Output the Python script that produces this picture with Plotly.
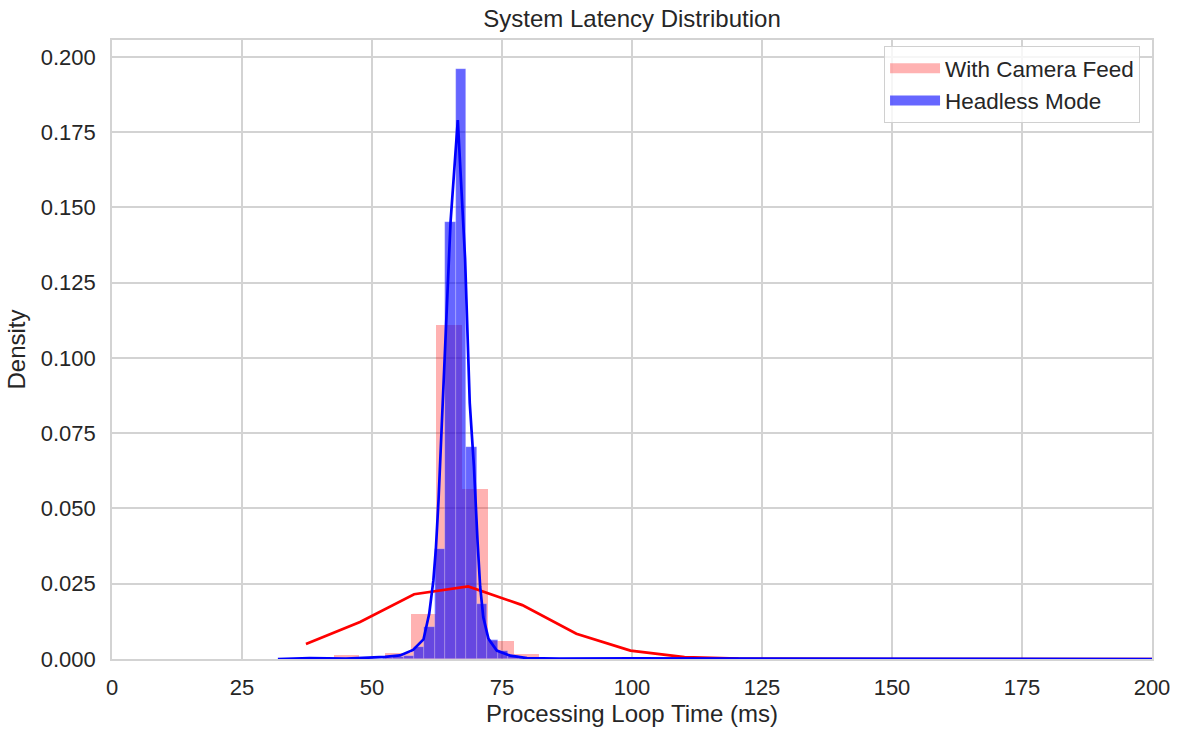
import plotly.graph_objects as go

# Histogram "With Camera Feed" (density), bin width ~4.95 ms
camera_bin_left = [42.6, 47.55, 52.5, 57.45, 62.4, 67.35, 72.3, 77.25]
camera_bin_width = 4.95
camera_density = [0.0012, 0.0, 0.0020, 0.0150, 0.1110, 0.0565, 0.0060, 0.0017]

# Histogram "Headless Mode" (density), bin width ~2.01 ms
headless_bin_left = [52.04, 54.05, 56.07, 58.08, 60.09, 62.10, 64.12, 66.13,
                     68.14, 70.15, 72.16, 74.18, 76.19, 78.20]
headless_bin_width = 2.012
headless_density = [0.0003, 0.0005, 0.0010, 0.0039, 0.0106, 0.0367, 0.1450, 0.1960,
                    0.0705, 0.0182, 0.0062, 0.0028, 0.0011, 0.0004]

# KDE curves
camera_kde_x = [37.3, 47.7, 58.1, 68.5, 78.9, 89.3, 99.7, 110.1, 120.5, 130.9,
                141.3, 151.7, 162.1, 172.5, 182.9, 193.3, 200.0]
camera_kde_y = [0.0050, 0.0123, 0.0215, 0.0241, 0.0179, 0.0084, 0.0028, 0.0006, 0.0001, 0.0,
                0.0, 0.0, 0.0, 0.0, 0.0, 0.0, 0.0]

headless_kde_x = [31.9, 38.0, 45.0, 52.5, 55.4, 57.9, 59.9, 61.0, 61.8, 62.3, 62.8, 63.2,
                  63.6, 64.0, 65.1, 66.5, 67.9, 68.8, 69.6, 70.3, 70.8, 71.4, 72.4, 74.0,
                  76.6, 79.8, 86.0, 100.0, 130.0, 160.0, 200.0]
headless_kde_y = [0.0, 0.0003, 0.0001, 0.0007, 0.0012, 0.0030, 0.0065, 0.0150, 0.0260, 0.0370,
                  0.0530, 0.0690, 0.0860, 0.0990, 0.1450, 0.1790, 0.1330, 0.0850, 0.0640,
                  0.0390, 0.0240, 0.0139, 0.0067, 0.0028, 0.0011, 0.0003, 0.0001, 0.0002,
                  0.0001, 0.0001, 0.0]

x_ticks = [0, 25, 50, 75, 100, 125, 150, 175, 200]
y_ticks = [0.0, 0.025, 0.05, 0.075, 0.1, 0.125, 0.15, 0.175, 0.2]

FONT = 'Liberation Sans, Arial, sans-serif'
TEXT = '#262626'
GRID = '#d3d3d3'
RED_FILL = 'rgba(255,0,0,0.3)'
BLUE_FILL = 'rgba(0,0,255,0.6)'

W, H = 1179, 737

fig = go.Figure()

# Barras do histograma (legenda feita com traços fictícios abaixo)
fig.add_trace(go.Bar(
    x=[l + camera_bin_width / 2 for l in camera_bin_left],
    y=camera_density,
    width=camera_bin_width,
    name='With Camera Feed',
    legendgroup='cam',
    showlegend=False,
    marker=dict(color=RED_FILL, line=dict(width=0)),
))
fig.add_trace(go.Bar(
    x=[l + headless_bin_width / 2 for l in headless_bin_left],
    y=headless_density,
    width=headless_bin_width,
    name='Headless Mode',
    legendgroup='head',
    showlegend=False,
    marker=dict(color=BLUE_FILL, line=dict(width=0.6, color='rgba(255,255,255,0.35)')),
))

# Curvas KDE
fig.add_trace(go.Scatter(
    x=camera_kde_x, y=camera_kde_y, mode='lines',
    line=dict(color='red', width=2.7), showlegend=False,
))
fig.add_trace(go.Scatter(
    x=headless_kde_x, y=headless_kde_y, mode='lines',
    line=dict(color='blue', width=2.7), showlegend=False,
))

# Amostras da legenda (retângulos largos como no matplotlib)
fig.add_trace(go.Scatter(
    x=[None], y=[None], mode='lines', name='With Camera Feed', legendgroup='cam',
    line=dict(color=RED_FILL, width=15),
))
fig.add_trace(go.Scatter(
    x=[None], y=[None], mode='lines', name='Headless Mode', legendgroup='head',
    line=dict(color=BLUE_FILL, width=15),
))

fig.update_layout(
    width=W,
    height=H,
    barmode='overlay',
    bargap=0,
    plot_bgcolor='white',
    paper_bgcolor='white',
    font=dict(family=FONT, color=TEXT, size=22),
    margin=dict(l=112, r=27, t=40, b=78),
    title=dict(
        text='System Latency Distribution',
        x=0.5, xref='paper', xanchor='center',
        y=1 - 19 / H, yref='container', yanchor='middle',
        font=dict(size=24, color=TEXT),
    ),
    xaxis=dict(
        range=[0, 200],
        tickvals=x_ticks,
        automargin=False,
        showgrid=True, gridcolor=GRID, gridwidth=1.6,
        showline=True, linecolor=GRID, linewidth=1.6, mirror=True,
        zeroline=False,
        ticks='', tickfont=dict(size=22), ticklabelstandoff=8,
        title=dict(text='Processing Loop Time (ms)', font=dict(size=24), standoff=6),
    ),
    yaxis=dict(
        range=[0, 0.2056],
        tickvals=y_ticks,
        tickformat='.3f',
        automargin=False,
        showgrid=True, gridcolor=GRID, gridwidth=1.6,
        showline=True, linecolor=GRID, linewidth=1.6, mirror=True,
        zeroline=False,
        ticks='', tickfont=dict(size=22), ticklabelstandoff=10,
        title=dict(text='Density', font=dict(size=24), standoff=8),
    ),
    legend=dict(
        x=0.9885, y=0.99, xanchor='right', yanchor='top',
        bgcolor='rgba(255,255,255,0.8)',
        bordercolor='#d0d0d0', borderwidth=1,
        font=dict(size=22.5, color=TEXT),
        itemwidth=50,
        tracegroupgap=0,
    ),
)

# remove a margem padrão do <body> para a figura ocupar a janela inteira
fig.write_html(
    "out.html",
    config={'displayModeBar': False},
    post_script="document.body.style.margin = '0px';",
)
